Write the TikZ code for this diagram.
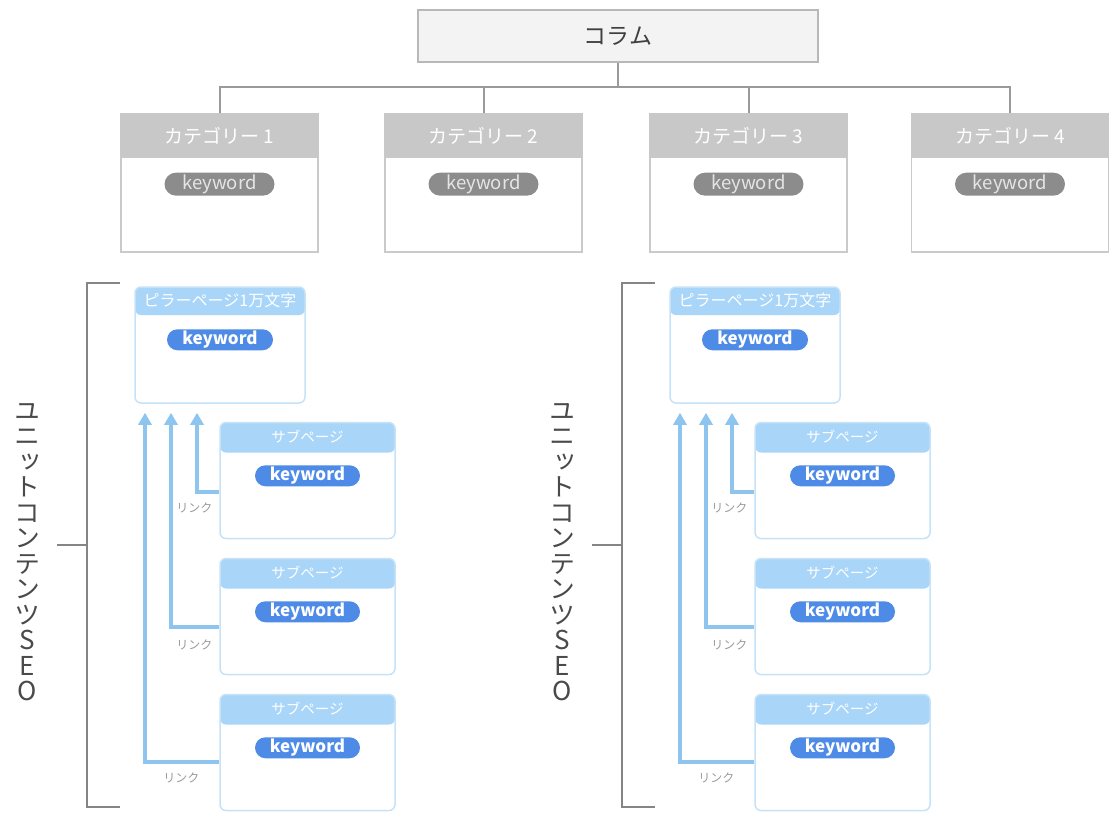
\documentclass[tikz,border=0pt]{standalone}
\usepackage{fontspec}
\setmainfont{Noto Sans CJK JP}
\newfontfamily\jpv[RawFeature=+vert]{Noto Sans CJK JP}
\usetikzlibrary{arrows.meta,calc}
\definecolor{linegray}{HTML}{9A9A9A}
\definecolor{catborder}{HTML}{CACACA}
\definecolor{cathead}{HTML}{C8C8C8}
\definecolor{pillgray}{HTML}{8C8C8C}
\definecolor{topfill}{HTML}{F3F3F3}
\definecolor{topborder}{HTML}{B8B8B8}
\definecolor{bluehead}{HTML}{A9D5F8}
\definecolor{blueborder}{HTML}{C6E2F7}
\definecolor{pillblue}{HTML}{4E8BE6}
\definecolor{arrowblue}{HTML}{8EC5EF}
\definecolor{linktext}{HTML}{9A9A9A}
\definecolor{bracketgray}{HTML}{858585}
\definecolor{vtext}{HTML}{4A4A4A}
\tikzset{
  topbox/.style={draw=topborder, line width=1.5pt, fill=topfill, minimum width=400pt, minimum height=52pt, inner sep=0pt, text=black!75, font=\fontsize{23}{25}\selectfont},
  catbox/.style={draw=catborder, line width=1.5pt, fill=white, minimum width=197pt, minimum height=138pt, inner sep=0pt},
  cathd/.style={fill=cathead, minimum width=198.5pt, minimum height=45pt, inner sep=0pt, text=white, font=\fontsize{19}{21}\selectfont, anchor=north},
  graypill/.style={fill=pillgray, rounded corners=11.5pt, minimum width=110pt, minimum height=23pt, inner sep=0pt, text=black!10, font=\fontsize{18.5}{20}\selectfont},
  conn/.style={draw=linegray, line width=2pt},
  bluebox/.style={draw=blueborder, line width=1.5pt, fill=white, rounded corners=6pt, inner sep=0pt,
     path picture={\fill[bluehead] (path picture bounding box.north west) rectangle ([yshift=-#1]path picture bounding box.north east);}},
  bluehdtext/.style={text=white, font=\fontsize{#1}{#1}\selectfont, inner sep=0pt},
  bluepill/.style={fill=pillblue, rounded corners=10.5pt, minimum width=106pt, minimum height=21pt, inner sep=0pt, text=white, font=\bfseries\fontsize{17}{18}\selectfont},
  linkarrow/.style={draw=arrowblue, line width=4pt, -{Triangle[width=13pt,length=12pt]}},
  linklabel/.style={text=linktext, font=\fontsize{12}{13}\selectfont, inner sep=0pt},
  bracketline/.style={draw=bracketgray, line width=1.5pt},
  vertlabel/.style={text=vtext, align=center, inner sep=0pt, font=\jpv\fontsize{26}{25.5}\selectfont}
}
\begin{document}
\begin{tikzpicture}[x=1pt,y=-1pt]
\useasboundingbox (0,0) rectangle (1110,812);
% top
\node[topbox] (col) at (618,36) {コラム};
% categories
\foreach \i/\cx in {1/219.5,2/483.5,3/748.5,4/1010}{
  \node[catbox] (cat\i) at (\cx,183) {};
  \node[cathd] (cat\i h) at (cat\i.north) {カテゴリー \i};
  \node[graypill] (kw\i) at ($(cat\i h.south)+(0,25.5)$) {keyword};
}
\draw[conn] (cat1.north) -- ++(0,-26) coordinate (hub) -| (cat4.north);
\draw[conn] (cat2.north) -- (cat2.north |- hub);
\draw[conn] (cat3.north) -- (cat3.north |- hub);
\draw[conn] (col.south) -- (col.south |- hub);
% units
\foreach \s/\dx in {L/0,R/535}{
  \node[bluebox=28pt, minimum width=170pt, minimum height=116pt] (p\s) at (220+\dx,345) {};
  \node[bluehdtext=16] (p\s h) at ($(p\s.north)+(0,14.5)$) {ピラーページ1万文字};
  \node[bluepill] (p\s k) at ($(p\s.north)+(0,53.5)$) {keyword};
  \foreach \j/\cy in {1/480.5,2/616.5,3/752.5}{
    \node[bluebox=30pt, minimum width=175pt, minimum height=116pt] (s\j\s) at (307.5+\dx,\cy) {};
    \node[bluehdtext=14.5] (s\j\s h) at ($(s\j\s.north)+(0,15)$) {サブページ};
    \node[bluepill, minimum width=105pt] (s\j\s k) at ($(s\j\s.north)+(0,54)$) {keyword};
  }
  \draw[linkarrow] ($(s1\s.west)+(0,11.5)$) -| ($(p\s.south)+(-23,9)$);
  \draw[linkarrow] ($(s2\s.west)+(0,10.5)$) -| ($(p\s.south)+(-49,9)$);
  \draw[linkarrow] ($(s3\s.west)+(0,9.5)$) -| ($(p\s.south)+(-75,9)$);
  \node[linklabel] (l1\s) at ($(s1\s.west)+(-25,27.5)$) {リンク};
  \node[linklabel] (l2\s) at ($(s2\s.west)+(-25,28.5)$) {リンク};
  \node[linklabel] (l3\s) at ($(s3\s.west)+(-38,25.5)$) {リンク};
  \coordinate (bt\s) at (87+\dx,283);
  \coordinate (bb\s) at (87+\dx,807);
  \draw[bracketline] ($(bt\s)+(33,0)$) -- (bt\s) -- (bb\s) -- ++(33,0);
  \draw[bracketline] ($(bt\s)!0.5!(bb\s)$) -- ++(-30,0);
  \node[vertlabel] (v\s) at (27+\dx,552) {ユ\\ニ\\ッ\\ト\\コ\\ン\\テ\\ン\\ツ\\S\\E\\O};
}
\end{tikzpicture}
\end{document}
